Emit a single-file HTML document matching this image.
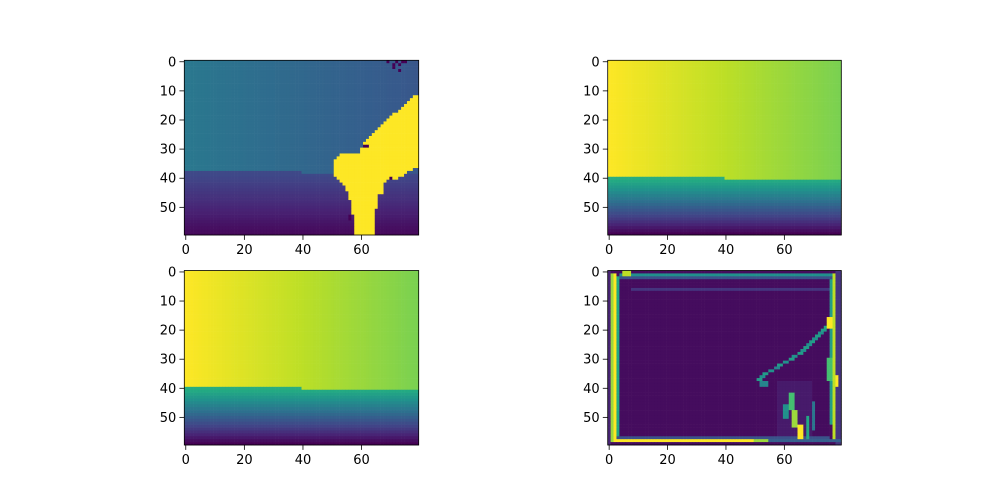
<!DOCTYPE html>
<html><head><meta charset="utf-8">
<style>
html,body{margin:0;padding:0;background:#fff;}
svg{display:block;}
text{font-family:"DejaVu Sans","Liberation Sans",sans-serif;font-size:13px;fill:#000;}
</style></head>
<body>
<svg id="fig" width="1000" height="500" viewBox="0 0 1000 500"></svg>
<script>
// ---- data ----
const nRows = 60, nCols = 80;
const xTicks = [0, 20, 40, 60];
const yTicks = [0, 10, 20, 30, 40, 50];
// panel 1: background levels
const p1TopLeft = 0.40, p1TopRight = 0.27, p1Boundary = [38, 39];
const p1BottomTop = 0.22, p1BottomEnd = 0.02;
// panel 1 yellow shape: rows, start col, end col
const blobRows  = [12,13,14,15,16,17,18,19,20,21,22,23,24,25,26,27,28,29,30,31,32,33,34,35,36,37,38,39,40,41,42,43,44,45,46,47,48,49,50,51,52,53,54,55,56,57,58,59];
const blobStart = [78,77,76,75,74,73,71,70,69,68,67,66,65,64,63,62,61,61,60,60,53,52,51,51,51,51,51,51,52,53,54,55,55,56,56,56,57,57,57,57,57,58,58,58,58,58,58,58];
const blobEnd   = [79,79,79,79,79,79,79,79,79,79,79,79,79,79,79,79,79,79,79,79,79,79,79,79,79,77,75,74,72,68,67,67,67,67,65,65,65,65,65,64,64,64,64,64,64,64,64,64];
const speckCols = [69,71,72,73,74,75,71,73,61,62,56,56,70];
const speckRows = [0,1,0,1,0,0,2,3,29,29,53,54,40];
// panels 2 & 3
const p23TopLeft = 1.0, p23TopRight = 0.80, p23Boundary = [40, 41];
const p23BottomTop = 0.62, p23BottomEnd = 0.0;
// panel 4 features: col,row,width,height,value
const p4Background = 0.03;
const p4Cols = [58,0,1,2,3,4,4,8,5,77,76,78,78,3,3,50,55,51,52,53,55,57,58,60,62,63,65,66,67,68,69,70,71,72,73,74,75,75,62,63,65,60,68,70,52,75];
const p4Rows = [38,0,1,1,2,1,2,6,0,1,3,0,36,57,58,58,58,37,36,35,34,33,32,31,30,29,28,27,26,25,24,23,22,21,20,19,18,16,42,48,53,46,50,45,38,30];
const p4W    = [12,1,1,1,1,73,73,68,3,1,1,2,1,73,47,5,25,2,2,2,2,2,2,2,2,2,2,2,2,2,2,2,2,2,2,2,2,2,2,2,2,2,1,1,3,2];
const p4H    = [20,60,58,58,56,1,1,1,2,58,50,60,4,1,1,1,1,1,1,1,1,1,1,1,1,1,1,1,1,1,1,1,1,1,1,1,1,4,6,6,5,5,8,10,2,8];
const p4V    = [0.07,0.1,0.85,1.0,0.6,0.5,0.25,0.15,0.9,0.9,0.55,0.15,1.0,0.25,1.0,0.85,0.3,0.55,0.5,0.55,0.5,0.45,0.55,0.5,0.55,0.5,0.55,0.5,0.55,0.5,0.55,0.5,0.55,0.5,0.55,0.6,0.7,1.0,0.7,0.85,1.0,0.5,0.6,0.4,0.45,0.7];
// ---- colormap ----
const vir = ["#440154","#482475","#414487","#355f8d","#2a788e","#21918c","#22a884","#44bf70","#7ad151","#bddf26","#fde725"];
function hex(h){return [parseInt(h.substr(1,2),16),parseInt(h.substr(3,2),16),parseInt(h.substr(5,2),16)];}
function cmap(v){v=Math.max(0,Math.min(1,v));const t=v*10;const i=Math.min(9,Math.floor(t));const f=t-i;const a=hex(vir[i]),b=hex(vir[i+1]);
return "rgb("+a.map((x,k)=>Math.round(x+(b[k]-x)*f)).join(",")+")";}
function layered(tl,tr,bd,bt,be){const g=[];const b0=bd[0];for(let r=0;r<nRows;r++){const row=[];for(let c=0;c<nCols;c++){
 const b=bd[0]+(bd[1]-bd[0])*c/(nCols-1);
 if(r<Math.round(b)) row.push(tl+(tr-tl)*c/(nCols-1));
 else {row.push(bt+(be-bt)*Math.max(0,r-b0-0.5)/(nRows-1-b0-0.5));}
 }g.push(row);}return g;}
const g1=layered(p1TopLeft,p1TopRight,p1Boundary,p1BottomTop,p1BottomEnd);
blobRows.forEach((r,i)=>{for(let c=blobStart[i];c<=blobEnd[i];c++) g1[r][c]=1.0;});
speckCols.forEach((c,i)=>{g1[speckRows[i]][c]=0.0;});
const g2=layered(p23TopLeft,p23TopRight,p23Boundary,p23BottomTop,p23BottomEnd);
const g3=layered(p23TopLeft,p23TopRight,p23Boundary,p23BottomTop,p23BottomEnd);
const g4=[];for(let r=0;r<nRows;r++){g4.push(new Array(nCols).fill(p4Background));}
p4Cols.forEach((c,i)=>{for(let r=p4Rows[i];r<Math.min(nRows,p4Rows[i]+p4H[i]);r++)for(let cc=c;cc<Math.min(nCols,c+p4W[i]);cc++)g4[r][cc]=p4V[i];});

const NS="http://www.w3.org/2000/svg";
const svg=document.getElementById('fig');
function el(t,a,p){const e=document.createElementNS(NS,t);for(const k in a)e.setAttribute(k,a[k]);(p||svg).appendChild(e);return e;}
const panels=[{x:184.3,y:60.3,w:234.4,h:174.7,g:g1,n:'top-left'},{x:607.7,y:60.3,w:233.6,h:174.7,g:g2,n:'top-right'},
{x:184.3,y:270.5,w:234.4,h:174.5,g:g3,n:'bottom-left'},{x:607.7,y:270.5,w:233.6,h:174.5,g:g4,n:'bottom-right'}];
panels.forEach(p=>{
 const grp=el('g',{});
 
 
 const xs=c=>p.x+(c+0.5)*p.w/nCols, ys=r=>p.y+(r+0.5)*p.h/nRows;
 const cw=p.w/nCols, ch=p.h/nRows;
 for(let r=0;r<nRows;r++)for(let c=0;c<nCols;c++){
  const e=el('rect',{x:(xs(c)-cw/2).toFixed(2),y:(ys(r)-ch/2).toFixed(2),width:(cw+0.3).toFixed(2),height:(ch+0.3).toFixed(2),fill:cmap(p.g[r][c])},grp);
 }
 const fr=el('rect',{x:p.x,y:p.y,width:p.w,height:p.h,fill:'none',stroke:'#000','stroke-width':0.8});
 
 
 xTicks.forEach(t=>{const X=xs(t);
  el('line',{x1:X,y1:p.y+p.h,x2:X,y2:p.y+p.h+4.9,stroke:'#000','stroke-width':0.8});
  const tx=el('text',{x:X,y:p.y+p.h+19,'text-anchor':'middle'});tx.textContent=t;
  
  });
 yTicks.forEach(t=>{const Y=ys(t);
  el('line',{x1:p.x,y1:Y,x2:p.x-4.9,y2:Y,stroke:'#000','stroke-width':0.8});
  const tx=el('text',{x:p.x-8,y:Y+4.5,'text-anchor':'end'});tx.textContent=t;
  
  });
});
</script>
</body></html>
